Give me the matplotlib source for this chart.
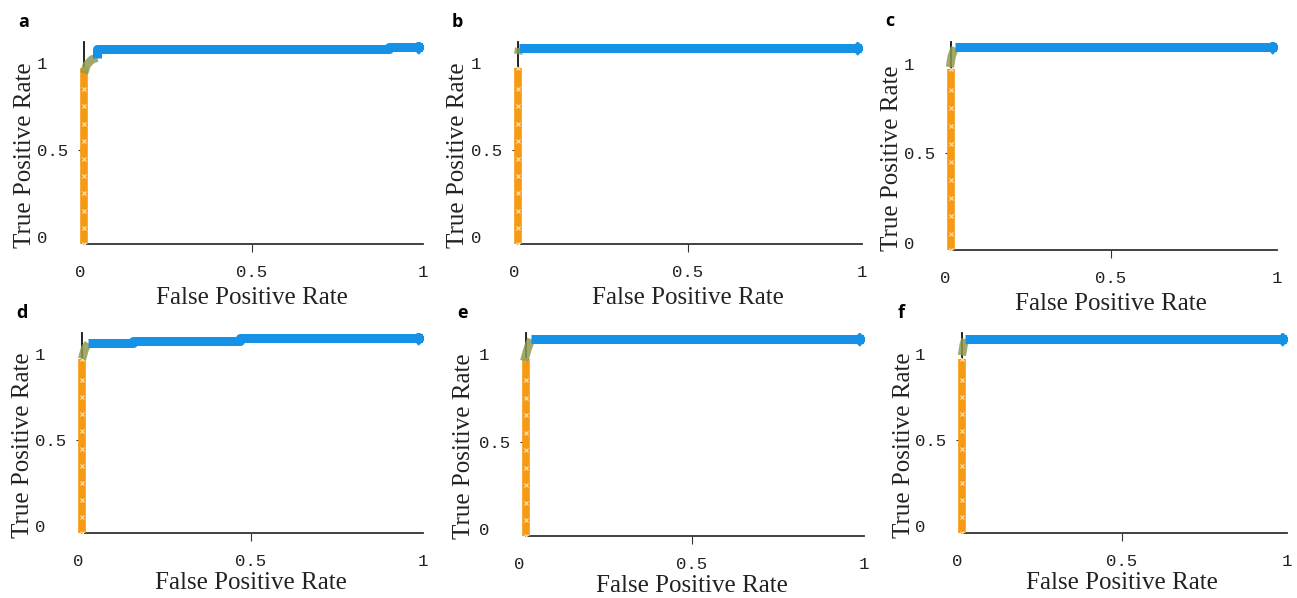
import numpy as np
import matplotlib.pyplot as plt

# ROC curves (a-f)
panel_letters = ['a', 'b', 'c', 'd', 'e', 'f']

# blue curve: (fpr, tpr) points
blue_fpr = [
    [0.05, 0.05, 0.90, 0.90, 1.00],
    [0.015, 1.00],
    [0.03, 1.00],
    [0.03, 0.16, 0.16, 0.47, 0.47, 1.00],
    [0.035, 1.00],
    [0.025, 1.00],
]
blue_tpr = [
    [1.03, 1.08, 1.08, 1.09, 1.09],
    [1.085, 1.085],
    [1.09, 1.09],
    [1.06, 1.06, 1.075, 1.075, 1.09, 1.09],
    [1.085, 1.085],
    [1.085, 1.085],
]

# olive transition segment where the two curves meet
mid_fpr = [
    [0.012, 0.02, 0.035, 0.05],
    [0.012, 0.015],
    [0.015, 0.02, 0.03],
    [0.012, 0.02, 0.03],
    [0.015, 0.025, 0.035],
    [0.015, 0.02, 0.025],
]
mid_tpr = [
    [0.94, 0.99, 1.02, 1.03],
    [1.05, 1.085],
    [0.98, 1.04, 1.09],
    [0.97, 1.03, 1.06],
    [0.96, 1.03, 1.085],
    [0.99, 1.05, 1.085],
]

# orange curve: vertical run near fpr ~ 0.01
orange_fpr = [0.012, 0.012, 0.018, 0.012, 0.02, 0.015]
orange_tpr = [-0.04, 0.05, 0.15, 0.25, 0.35, 0.45, 0.55, 0.65, 0.75, 0.85, 0.97]

# axes boxes in pixels: left, right, bottom, top
boxes = [
    (80, 423, 244, 42),
    (514, 862, 244, 42),
    (945, 1277, 250, 42),
    (78, 423, 533, 333),
    (519, 864, 536, 333),
    (957, 1287, 533, 333),
]

W, H = 1297, 598
fig = plt.figure(figsize=(W / 100, H / 100), dpi=100)

blue = '#1592e6'
orange = '#f59a12'
olive = '#8f9a50'

for i, (l, r, b, t) in enumerate(boxes):
    ax = fig.add_axes([l / W, 1 - b / H, (r - l) / W, (b - t) / H])
    ox = orange_fpr[i]
    ax.plot([ox] * len(orange_tpr), orange_tpr, color=orange, lw=5.5,
            solid_capstyle='butt', zorder=3)
    ax.plot([ox] * len(orange_tpr), orange_tpr, ls='none', marker='x',
            ms=3, mew=0.8, color='#fde6c0', zorder=4)
    ax.plot(mid_fpr[i], mid_tpr[i], color=olive, lw=6, alpha=0.85,
            solid_capstyle='butt', zorder=5)
    ax.plot(blue_fpr[i], blue_tpr[i], color=blue, lw=6.5,
            solid_capstyle='butt', zorder=6)
    ax.plot(blue_fpr[i][-1:], blue_tpr[i][-1:], ls='none', marker='x',
            ms=8, mew=2.5, color=blue, zorder=6)

    ax.set_xlim(0, 1)
    ax.set_ylim(-0.04, 1.12)
    ax.spines['top'].set_visible(False)
    ax.spines['right'].set_visible(False)
    ax.spines['left'].set_position(('data', ox))
    ax.spines['bottom'].set_bounds(0.02, 1)
    ax.spines['left'].set_bounds(-0.04, 1.12)
    ax.spines['left'].set_linewidth(1.3)
    ax.spines['bottom'].set_linewidth(1.3)
    ax.spines['left'].set_color('#111111')
    ax.spines['bottom'].set_color('#333333')

    ax.set_xticks([0, 0.5, 1])
    ax.set_xticklabels(['0', '0.5', '1'])
    ax.set_yticks([0, 0.5, 1])
    ax.set_yticklabels(['0', '0.5', '1'])
    ax.tick_params(axis='x', direction='out', length=6, pad=9, color='#333333')
    ax.tick_params(axis='y', direction='out', length=4, pad=30, color='#333333')
    for k in (0, 2):
        ax.xaxis.get_major_ticks()[k].tick1line.set_visible(False)
        ax.yaxis.get_major_ticks()[k].tick1line.set_visible(False)
    for lab in ax.get_xticklabels() + ax.get_yticklabels():
        lab.set_fontfamily('Liberation Mono')
        lab.set_fontsize(12.5)
        lab.set_color('#222222')
    for lab in ax.get_yticklabels():
        lab.set_horizontalalignment('left')

    ax.set_xlabel('False Positive Rate', family='Liberation Serif',
                  fontsize=18, labelpad=5 if i < 3 else 2, color='#222222')
    ax.set_ylabel('True Positive Rate', family='Liberation Serif',
                  fontsize=18, color='#222222')
    ax.yaxis.set_label_coords(-0.128, 0.44)

    ax.text(-0.18, 1.1, panel_letters[i], transform=ax.transAxes,
            family='Open Sans', fontweight='bold', fontsize=13,
            va='center', ha='left')

fig.savefig('out.png', dpi=100)
